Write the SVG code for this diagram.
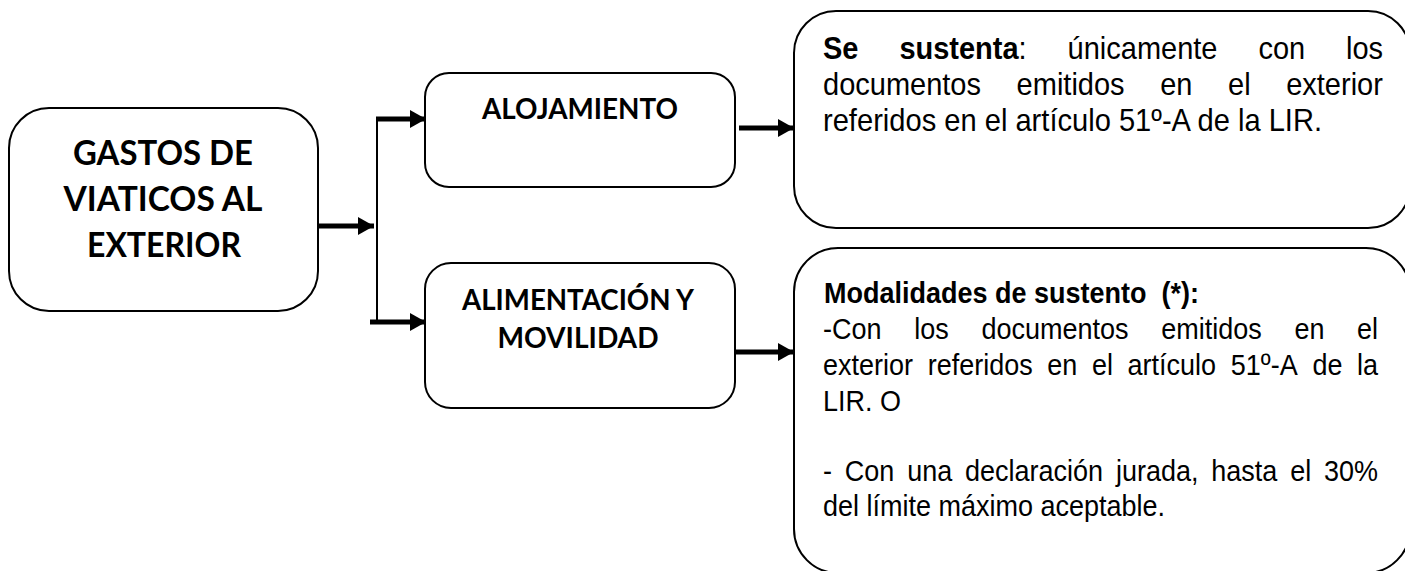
<svg xmlns="http://www.w3.org/2000/svg" width="1405" height="571" viewBox="0 0 1405 571">
<style>
.box{fill:#fff;stroke:#000;stroke-width:2}
.hd{font-family:Lato,"Liberation Sans",sans-serif;font-weight:700;fill:#000;text-anchor:middle}
.t{font-family:"Liberation Sans",Arial,sans-serif;fill:#000}
.t29{font-size:32px}
.t27{font-size:30px}
.b{font-weight:700}
.sh{stroke:#000;stroke-width:5;fill:none}
.thin{stroke:#000;stroke-width:2;fill:none}
</style>
<defs>
<marker id="ah" markerUnits="userSpaceOnUse" markerWidth="17" markerHeight="18" refX="16" refY="9" orient="auto">
<path d="M0,0 L16,9 L0,18 z" fill="#000"/>
</marker>
</defs>
<g id="connectors">
<line class="sh" x1="318" y1="226" x2="374" y2="226" marker-end="url(#ah)"/>
<line class="thin" x1="377" y1="117" x2="377" y2="324"/>
<line class="sh" x1="376" y1="119" x2="426" y2="119" marker-end="url(#ah)"/>
<line class="sh" x1="370" y1="322" x2="426" y2="322" marker-end="url(#ah)"/>
<line class="sh" x1="739" y1="128" x2="794" y2="128" marker-end="url(#ah)"/>
<line class="sh" x1="736" y1="352" x2="794" y2="352" marker-end="url(#ah)"/>
</g>
<g id="gastos">
<rect class="box" x="9" y="108" width="309" height="203" rx="40"/>
<text class="hd" font-size="34" x="163" y="165" textLength="180" lengthAdjust="spacingAndGlyphs">GASTOS DE</text>
<text class="hd" font-size="34" x="163" y="211" textLength="199" lengthAdjust="spacingAndGlyphs">VIATICOS AL</text>
<text class="hd" font-size="34" x="164" y="257" textLength="154" lengthAdjust="spacingAndGlyphs">EXTERIOR</text>
</g>
<g id="alojamiento">
<rect class="box" x="425" y="73" width="310" height="114" rx="24"/>
<text class="hd" font-size="29" x="580" y="119" textLength="196" lengthAdjust="spacingAndGlyphs">ALOJAMIENTO</text>
</g>
<g id="alimentacion">
<rect class="box" x="425" y="263" width="310" height="145" rx="26"/>
<text class="hd" font-size="29" x="578" y="310" textLength="232" lengthAdjust="spacingAndGlyphs">ALIMENTACIÓN Y</text>
<text class="hd" font-size="29" x="578" y="348" textLength="161" lengthAdjust="spacingAndGlyphs">MOVILIDAD</text>
</g>
<g id="sustento-alojamiento">
<rect class="box" x="794" y="11" width="616" height="217" rx="42"/>
<text class="t" font-size="29" y="59" transform="translate(0,59) scale(1,1.1) translate(0,-59)"><tspan class="b" x="823">Se</tspan><tspan class="b" x="899.4">sustenta</tspan><tspan>:</tspan><tspan x="1067.6">únicamente</tspan><tspan x="1258.4">con</tspan><tspan x="1346">los</tspan></text>
<text class="t t29" x="823" y="95" textLength="158" lengthAdjust="spacingAndGlyphs">documentos</text>
<text class="t t29" x="1016.6" y="95" textLength="108" lengthAdjust="spacingAndGlyphs">emitidos</text>
<text class="t t29" x="1160.2" y="95" textLength="32.2" lengthAdjust="spacingAndGlyphs">en</text>
<text class="t t29" x="1228" y="95" textLength="22.6" lengthAdjust="spacingAndGlyphs">el</text>
<text class="t t29" x="1286.2" y="95" textLength="96.7" lengthAdjust="spacingAndGlyphs">exterior</text>
<text class="t t29" x="823" y="131" textLength="499" lengthAdjust="spacingAndGlyphs">referidos en el artículo 51º-A de la LIR.</text>
</g>
<g id="sustento-alimentacion">
<rect class="box" x="794" y="248" width="616" height="325" rx="44"/>
<text class="t t27 b" x="824" y="303" style="white-space:pre" textLength="375" lengthAdjust="spacingAndGlyphs">Modalidades de sustento  (*):</text>
<text class="t t27" x="823" y="339" textLength="58.5" lengthAdjust="spacingAndGlyphs">-Con</text>
<text class="t t27" x="914.2" y="339" textLength="34.5" lengthAdjust="spacingAndGlyphs">los</text>
<text class="t t27" x="981.4" y="339" textLength="147.1" lengthAdjust="spacingAndGlyphs">documentos</text>
<text class="t t27" x="1161.2" y="339" textLength="100.5" lengthAdjust="spacingAndGlyphs">emitidos</text>
<text class="t t27" x="1294.4" y="339" textLength="30" lengthAdjust="spacingAndGlyphs">en</text>
<text class="t t27" x="1357.1" y="339" textLength="21" lengthAdjust="spacingAndGlyphs">el</text>
<text class="t t27" x="823" y="375" textLength="90" lengthAdjust="spacingAndGlyphs">exterior</text>
<text class="t t27" x="927.7" y="375" textLength="105" lengthAdjust="spacingAndGlyphs">referidos</text>
<text class="t t27" x="1047.3" y="375" textLength="30" lengthAdjust="spacingAndGlyphs">en</text>
<text class="t t27" x="1092" y="375" textLength="21" lengthAdjust="spacingAndGlyphs">el</text>
<text class="t t27" x="1127.6" y="375" textLength="88.5" lengthAdjust="spacingAndGlyphs">artículo</text>
<text class="t t27" x="1230.8" y="375" textLength="66.9" lengthAdjust="spacingAndGlyphs">51º-A</text>
<text class="t t27" x="1312.4" y="375" textLength="30" lengthAdjust="spacingAndGlyphs">de</text>
<text class="t t27" x="1357" y="375" textLength="21" lengthAdjust="spacingAndGlyphs">la</text>
<text class="t t27" x="823" y="411" textLength="78" lengthAdjust="spacingAndGlyphs">LIR. O</text>
<text class="t t27" x="823" y="481" textLength="9" lengthAdjust="spacingAndGlyphs">-</text>
<text class="t t27" x="844.8" y="481" textLength="49.5" lengthAdjust="spacingAndGlyphs">Con</text>
<text class="t t27" x="907.2" y="481" textLength="45" lengthAdjust="spacingAndGlyphs">una</text>
<text class="t t27" x="965" y="481" textLength="138.1" lengthAdjust="spacingAndGlyphs">declaración</text>
<text class="t t27" x="1116" y="481" textLength="82.5" lengthAdjust="spacingAndGlyphs">jurada,</text>
<text class="t t27" x="1211.3" y="481" textLength="66" lengthAdjust="spacingAndGlyphs">hasta</text>
<text class="t t27" x="1290.2" y="481" textLength="21" lengthAdjust="spacingAndGlyphs">el</text>
<text class="t t27" x="1324" y="481" textLength="54" lengthAdjust="spacingAndGlyphs">30%</text>
<text class="t t27" x="823" y="516" textLength="342" lengthAdjust="spacingAndGlyphs">del límite máximo aceptable.</text>
</g>
</svg>
